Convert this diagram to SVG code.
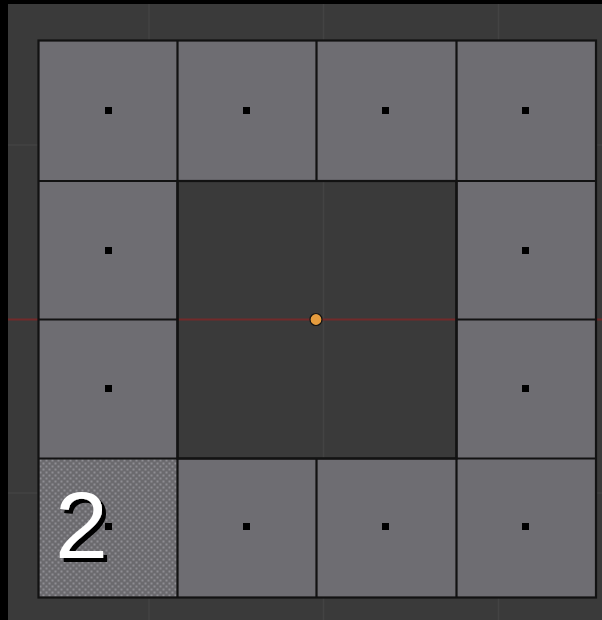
<svg xmlns="http://www.w3.org/2000/svg" width="602" height="620" viewBox="0 0 602 620">
<defs>
<style>
.face{fill:#6e6d72}
.edge{fill:none;stroke:#121212;stroke-width:2.2}
.grid{stroke:#434343;stroke-width:1.5}
.vert{fill:#000}
.lbl{font-family:"Liberation Sans",Arial,sans-serif;font-size:95px}
</style>
<pattern id="stip" width="6" height="6" patternUnits="userSpaceOnUse">
<rect width="6" height="6" fill="#6b6a6e"/>
<rect x="0.5" y="0.5" width="2" height="2" fill="#8f8e93"/>
<rect x="3.5" y="3.5" width="2" height="2" fill="#8f8e93"/>
</pattern>
<filter id="shadow" x="-20%" y="-20%" width="150%" height="150%">
<feOffset in="SourceAlpha" dx="4" dy="4" result="off"/>
<feMerge><feMergeNode in="off"/><feMergeNode in="SourceGraphic"/></feMerge>
</filter>
</defs>
<rect width="602" height="620" fill="#3a3a3a"/>
<rect x="0" y="0" width="8" height="620" fill="#000"/>
<rect x="0" y="0" width="602" height="4" fill="#000"/>
<g id="grid">
<line class="grid" x1="149" y1="4" x2="149" y2="620"/>
<line class="grid" x1="323.5" y1="4" x2="323.5" y2="620"/>
<line class="grid" x1="498.5" y1="4" x2="498.5" y2="620"/>
<line class="grid" x1="8" y1="145" x2="602" y2="145"/>
<line class="grid" x1="8" y1="493" x2="602" y2="493"/>
<line x1="8" y1="319.5" x2="602" y2="319.5" stroke="#722a2a" stroke-width="1.8"/>
</g>
<g id="faces">
<rect class="face" x="38.5" y="40.5" width="557.5" height="140.5"/>
<rect class="face" x="38.5" y="181" width="139.5" height="277.5"/>
<rect class="face" x="456.5" y="181" width="139.5" height="277.5"/>
<rect class="face" x="177.5" y="458.5" width="418.5" height="139"/>
<rect x="38.5" y="458.5" width="139" height="139" fill="url(#stip)"/>
</g>
<g id="edges">
<rect class="edge" x="38.5" y="40.5" width="557.5" height="557"/>
<rect class="edge" x="177.5" y="181" width="279" height="277.5"/>
<line class="edge" x1="177.5" y1="40.5" x2="177.5" y2="597.5"/>
<line class="edge" x1="456.5" y1="40.5" x2="456.5" y2="597.5"/>
<line class="edge" x1="316.5" y1="40.5" x2="316.5" y2="181"/>
<line class="edge" x1="316.5" y1="458.5" x2="316.5" y2="597.5"/>
<line class="edge" x1="38.5" y1="181" x2="596" y2="181"/>
<line class="edge" x1="38.5" y1="458.5" x2="596" y2="458.5"/>
<line class="edge" x1="38.5" y1="319.5" x2="177.5" y2="319.5"/>
<line class="edge" x1="456.5" y1="319.5" x2="596" y2="319.5"/>
</g>
<g id="dots">
<rect class="vert" x="105" y="107" width="7" height="7"/>
<rect class="vert" x="243" y="107" width="7" height="7"/>
<rect class="vert" x="382" y="107" width="7" height="7"/>
<rect class="vert" x="522" y="107" width="7" height="7"/>
<rect class="vert" x="105" y="247" width="7" height="7"/>
<rect class="vert" x="522" y="247" width="7" height="7"/>
<rect class="vert" x="105" y="385" width="7" height="7"/>
<rect class="vert" x="522" y="385" width="7" height="7"/>
<rect class="vert" x="105" y="523" width="7" height="7"/>
<rect class="vert" x="243" y="523" width="7" height="7"/>
<rect class="vert" x="382" y="523" width="7" height="7"/>
<rect class="vert" x="522" y="523" width="7" height="7"/>
</g>
<circle id="origin" cx="316" cy="319.5" r="6" fill="#e59c3e" stroke="#111" stroke-width="1.2"/>
<g id="label">
<text class="lbl" x="55" y="558" fill="#fff" filter="url(#shadow)">2</text>
</g>
</svg>
